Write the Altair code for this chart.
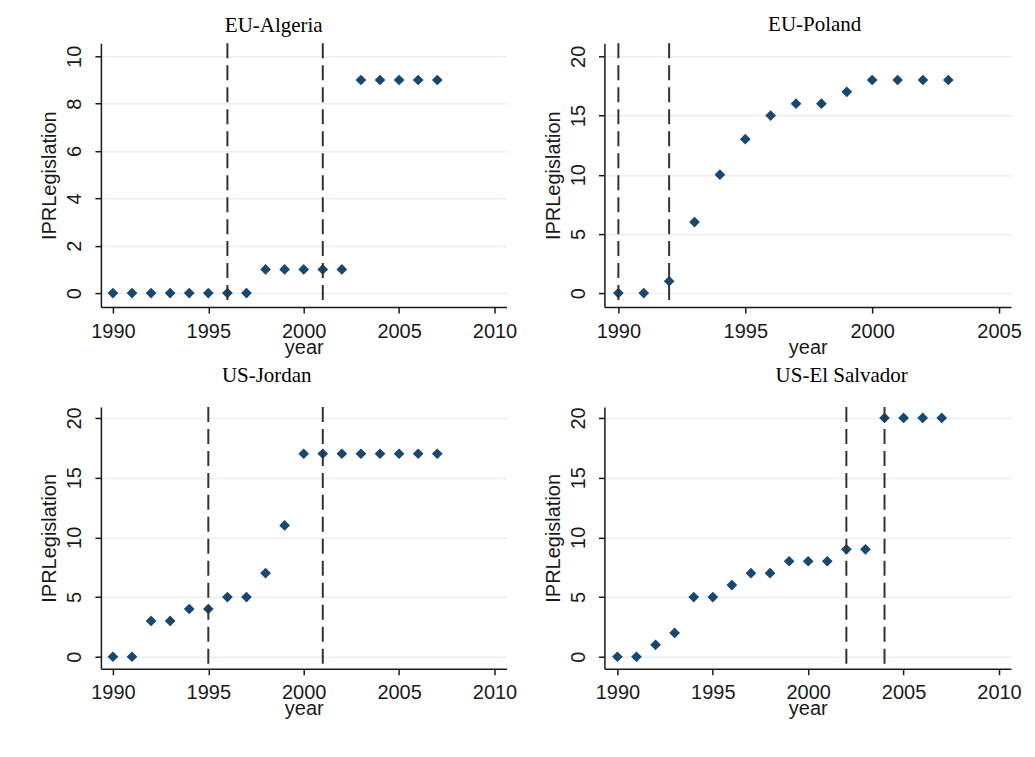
import altair as alt
import pandas as pd

# ---- data ----
alg_years = [1990, 1991, 1992, 1993, 1994, 1995, 1996, 1997, 1998, 1999, 2000, 2001, 2002, 2003, 2004, 2005, 2006, 2007]
alg_ipr = [0, 0, 0, 0, 0, 0, 0, 0, 1, 1, 1, 1, 1, 9, 9, 9, 9, 9]
alg_rules = [1996, 2001]

pol_years = [1990, 1991, 1992, 1993, 1994, 1995, 1996, 1997, 1998, 1999, 2000, 2001, 2002, 2003]
pol_ipr = [0, 0, 1, 6, 10, 13, 15, 16, 16, 17, 18, 18, 18, 18]
pol_rules = [1990, 1992]

jor_years = [1990, 1991, 1992, 1993, 1994, 1995, 1996, 1997, 1998, 1999, 2000, 2001, 2002, 2003, 2004, 2005, 2006, 2007]
jor_ipr = [0, 0, 3, 3, 4, 4, 5, 5, 7, 11, 17, 17, 17, 17, 17, 17, 17, 17]
jor_rules = [1995, 2001]

sal_years = [1990, 1991, 1992, 1993, 1994, 1995, 1996, 1997, 1998, 1999, 2000, 2001, 2002, 2003, 2004, 2005, 2006, 2007]
sal_ipr = [0, 0, 1, 2, 5, 5, 6, 7, 7, 8, 8, 8, 9, 9, 20, 20, 20, 20]
sal_rules = [2002, 2004]

titles = ["EU-Algeria", "EU-Poland", "US-Jordan", "US-El Salvador"]
x_ticks_long = [1990, 1995, 2000, 2005, 2010]
x_ticks_short = [1990, 1995, 2000, 2005]
y_ticks_10 = [0, 2, 4, 6, 8, 10]
y_ticks_20 = [0, 5, 10, 15, 20]

MARK = "#1a476f"
SANS = "Liberation Sans"
SERIF = "Liberation Serif"


def panel(title, years, vals, rules, xdom, ydom, xticks, yticks, w, h, tdx, toff):
    pts = pd.DataFrame({"year": years, "IPRLegislation": vals})
    rl = pd.DataFrame({"year": rules})
    x = alt.X("year:Q", scale=alt.Scale(domain=xdom, nice=False, zero=False),
              axis=alt.Axis(values=xticks, format="d", title="year", grid=False,
                            labelPadding=8, titlePadding=-4))
    y = alt.Y("IPRLegislation:Q", scale=alt.Scale(domain=ydom, nice=False, zero=False),
              axis=alt.Axis(values=yticks, format="d", title="IPRLegislation", grid=True,
                            labelAngle=270, labelPadding=10, titlePadding=5))
    points = alt.Chart(pts).mark_point(shape="diamond", filled=True, size=115,
                                       color=MARK, opacity=1, strokeWidth=0).encode(x=x, y=y)
    lines = alt.Chart(rl).mark_rule(strokeDash=[15, 7], strokeWidth=2, color="#333333").encode(
        x=alt.X("year:Q", scale=alt.Scale(domain=xdom, nice=False, zero=False)))
    return alt.layer(points, lines).properties(
        width=w, height=h,
        title=alt.TitleParams(title, font=SERIF, fontSize=21, fontWeight="normal", color="#000000",
                              frame="group", anchor="middle", baseline="alphabetic",
                              dx=tdx, offset=toff),
    )


p1 = panel(titles[0], alg_years, alg_ipr, alg_rules, [1989.37, 2010.63], [-0.59, 10.55],
           x_ticks_long, y_ticks_10, 406, 264, -30, -11)
p2 = panel(titles[1], pol_years, pol_ipr, pol_rules, [1989.45, 2005.47], [-1.18, 21.1],
           x_ticks_short, y_ticks_20, 407, 264, 7, -10)
p3 = panel(titles[2], jor_years, jor_ipr, jor_rules, [1989.37, 2010.63], [-1.0, 20.92],
           x_ticks_long, y_ticks_20, 406, 262, -37, 3)
p4 = panel(titles[3], sal_years, sal_ipr, sal_rules, [1989.32, 2010.63], [-1.0, 20.92],
           x_ticks_long, y_ticks_20, 407, 262, 34, 3)

chart = alt.concat(p1, p2, p3, p4, columns=2, spacing={"row": 100, "column": 98},
                   bounds="flush").properties(
    padding={"left": 31, "top": 6, "right": 5, "bottom": 5},
    background="white",
).configure_view(stroke=None).configure_axis(
    domainColor="#1a1a1a", domainWidth=1.5, tickColor="#1a1a1a", tickWidth=1.5, tickSize=6,
    labelFont=SANS, labelFontSize=20, labelColor="#1a1a1a",
    titleFont=SANS, titleFontSize=20, titleFontWeight="normal", titleColor="#1a1a1a",
    gridColor="#e9eff5", gridWidth=1.5,
)

chart.save("out.html", embed_options={"renderer": "svg", "actions": False})
